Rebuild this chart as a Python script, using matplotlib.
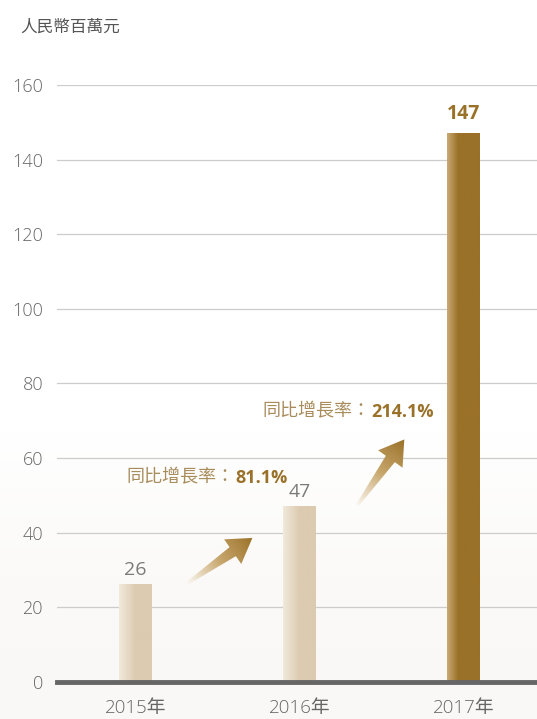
import matplotlib
matplotlib.use('Agg')
import matplotlib.pyplot as plt
from matplotlib.colors import LinearSegmentedColormap
from matplotlib.patches import Polygon
import numpy as np

plt.rcParams['font.family'] = ['Open Sans', 'Noto Sans CJK TC', 'DejaVu Sans']

years = ['2015年', '2016年', '2017年']
values = [26, 47, 147]
growth_labels = ['81.1%', '214.1%']
y_ticks = [0, 20, 40, 60, 80, 100, 120, 140, 160]
unit_label = '人民幣百萬元'

GOLD = '#9a7128'
LABEL_GOLD = '#a88c5c'

fig = plt.figure(figsize=(5.37, 7.19), dpi=100)

# faint background wash at the bottom
bg = fig.add_axes([0, 0, 1, 1], zorder=-1)
bg.axis('off')
grad = np.linspace(0, 1, 200).reshape(-1, 1)
bg_cmap = LinearSegmentedColormap.from_list('bg', ['#f9f8f6', '#fbfaf8', '#ffffff'])
bg.imshow(np.clip(grad * 2.5, 0, 1), cmap=bg_cmap, aspect='auto', extent=[0, 1, 0, 1], origin='lower')
bg.set_xlim(0, 1)
bg.set_ylim(0, 1)

ax = fig.add_axes([0.106, 0.0515, 0.894, 0.8303])
ax.patch.set_alpha(0)
x = np.arange(len(values))
w = 0.2
xlim = (-0.48, 2.45)
ylim = (0, 160)

light_cmap = LinearSegmentedColormap.from_list('light', ['#f1e9dc', '#dccbb0', '#dccbb0'])
dark_cmap = LinearSegmentedColormap.from_list('dark', ['#c9aa74', '#9a7128', '#9a7128', '#9a7128'])
hgrad = np.linspace(0, 1, 100).reshape(1, -1)
for i, v in enumerate(values):
    cm = dark_cmap if i == 2 else light_cmap
    ax.imshow(hgrad, cmap=cm, aspect='auto', extent=[x[i] - w / 2, x[i] + w / 2, 0, v], zorder=2)

for i, v in enumerate(values):
    if i == 2:
        ax.text(x[i], v + 2.5, str(v), ha='center', va='bottom', fontsize=14, color=GOLD, fontweight='bold')
    else:
        ax.text(x[i], v + 1.5, str(v), ha='center', va='bottom', fontsize=14, color='#7a7a7a')

ax.set_xlim(*xlim)
ax.set_ylim(*ylim)


def gradient_arrow(ax, start, end, tail_w=3, shaft_w=11, head_w=30, head_l=24):
    s = ax.transData.transform(start)
    e = ax.transData.transform(end)
    d = e - s
    L = np.hypot(*d)
    u = d / L
    n = np.array([-u[1], u[0]])
    b = e - u * head_l
    pts = [s + n * tail_w / 2, b + n * shaft_w / 2, b + n * head_w / 2, e,
           b - n * head_w / 2, b - n * shaft_w / 2, s - n * tail_w / 2]
    inv = ax.transData.inverted()
    data_pts = inv.transform(np.array(pts))
    poly = Polygon(data_pts, closed=True, facecolor='none', edgecolor='none')
    ax.add_patch(poly)
    x0, y0 = data_pts.min(axis=0)
    x1, y1 = data_pts.max(axis=0)
    gx, gy = np.meshgrid(np.linspace(x0, x1, 120), np.linspace(y0, y1, 120))
    disp = ax.transData.transform(np.column_stack([gx.ravel(), gy.ravel()]))
    t = ((disp - s) @ u / L).reshape(gx.shape)
    cmap = LinearSegmentedColormap.from_list('arr', ['#faf6ef', '#c7a66c', '#9a7128'])
    im = ax.imshow(np.clip(t, 0, 1), cmap=cmap, aspect='auto', extent=[x0, x1, y0, y1],
                   origin='lower', zorder=3)
    im.set_clip_path(poly)


gradient_arrow(ax, (0.317, 26.5), (0.713, 38.6))
gradient_arrow(ax, (1.354, 47.4), (1.64, 65.0))

# growth annotations: label then bold number on the same baseline
fig.canvas.draw()
renderer = fig.canvas.get_renderer()
for (gx_, gy_), g in zip([(-0.055, 53.4), (0.774, 71.1)], growth_labels):
    t1 = ax.text(gx_, gy_, '同比增長率：', fontsize=13, color=LABEL_GOLD, va='baseline', ha='left',
                 family=['Noto Sans CJK TC'])
    bb = t1.get_window_extent(renderer)
    nx = ax.transData.inverted().transform((bb.x1 + 1, 0))[0]
    ax.text(nx, gy_, g, fontsize=13, color=GOLD, fontweight='bold', va='baseline', ha='left')

ax.set_yticks(y_ticks)
ax.set_yticklabels([str(t) for t in y_ticks], fontsize=13, color='#666666', fontweight='light')
ax.set_xticks(x)
ax.set_xticklabels(years, fontsize=13.5, color='#666666', fontweight='light')
ax.tick_params(axis='y', length=0, pad=10)
ax.tick_params(axis='x', length=0, pad=12)
ax.grid(axis='y', color='#cccccc', linewidth=0.9, zorder=0)
ax.set_axisbelow(True)
for sp in ['top', 'right', 'left']:
    ax.spines[sp].set_visible(False)
ax.spines['bottom'].set_color('#666666')
ax.spines['bottom'].set_linewidth(3.5)
ax.spines['bottom'].set_zorder(4)

fig.text(20 / 537, 1 - 27 / 719, unit_label, fontsize=12, color='#555555', va='center', ha='left',
         family=['Noto Sans CJK TC'])

plt.savefig('out.png', dpi=100)
plt.close()
